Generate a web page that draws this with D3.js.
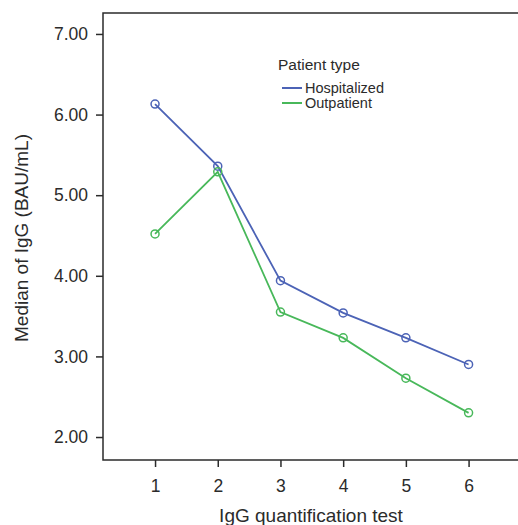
<!DOCTYPE html>
<html>
<head>
<meta charset="utf-8">
<script src="https://cdn.jsdelivr.net/npm/d3@7"></script>
<style>
  body { margin: 0; background: #fff; }
  text { font-family: "Liberation Sans", Arial, sans-serif; fill: #2b2b2b; }
</style>
</head>
<body>
<div id="chart"></div>
<script>
// data
var tests = [1, 2, 3, 4, 5, 6];
var hospitalized = [6.13, 5.36, 3.94, 3.54, 3.23, 2.90];
var outpatient = [4.52, 5.29, 3.55, 3.23, 2.73, 2.30];
var yTicks = [2, 3, 4, 5, 6, 7];
var seriesNames = ["Hospitalized", "Outpatient"];
var seriesColors = ["#4c63b6", "#48b85a"];

var width = 518;
var height = 525;
// plot box (top is a reserved window name, so use plotTop)
var plotLeft = 103, plotTop = 13, plotBottom = 460, plotRight = 520;

var svg = d3.select("#chart")
  .append("svg")
  .attr("width", width)
  .attr("height", height);

var x = d3.scaleLinear().domain([0.17, 6.82]).range([plotLeft, plotRight]);
var y = d3.scaleLinear().domain([1.715, 7.26]).range([plotBottom, plotTop]);

// frame: top, left, bottom
svg.append("path")
  .attr("d", "M" + (plotRight + 5) + "," + plotTop + "H" + plotLeft + "V" + plotBottom + "H" + (plotRight + 5))
  .attr("fill", "none")
  .attr("stroke", "#2b2b2b")
  .attr("stroke-width", 1.5);

// y axis
var yAxis = d3.axisLeft(y).tickValues(yTicks).tickFormat(d3.format(".2f")).tickSize(7).tickPadding(8);
var gy = svg.append("g").attr("transform", "translate(" + plotLeft + ",0)").call(yAxis);
gy.select(".domain").remove();
gy.selectAll("line").attr("stroke", "#2b2b2b").attr("stroke-width", 1.5);
gy.selectAll("text").style("font-size", "17.5px").attr("fill", "#2b2b2b");

// x axis
var xAxis = d3.axisBottom(x).tickValues(tests).tickFormat(d3.format("d")).tickSize(7).tickPadding(13);
var gx = svg.append("g").attr("transform", "translate(0," + plotBottom + ")").call(xAxis);
gx.select(".domain").remove();
gx.selectAll("line").attr("stroke", "#2b2b2b").attr("stroke-width", 1.5);
gx.selectAll("text").style("font-size", "17.5px").attr("fill", "#2b2b2b");

// axis titles
svg.append("text")
  .attr("x", 311).attr("y", 522)
  .attr("text-anchor", "middle")
  .style("font-size", "19px")
  .text("IgG quantification test");

svg.append("text")
  .attr("transform", "translate(28," + 238 + ")rotate(-90)")
  .attr("text-anchor", "middle")
  .style("font-size", "19px")
  .text("Median of IgG (BAU/mL)");

// lines + markers
var allSeries = [hospitalized, outpatient];
var line = d3.line()
  .x(function(d, i) { return x(tests[i]); })
  .y(function(d) { return y(d); });

allSeries.forEach(function(vals, s) {
  svg.append("path")
    .datum(vals)
    .attr("d", line)
    .attr("fill", "none")
    .attr("stroke", seriesColors[s])
    .attr("stroke-width", 1.8);
  svg.selectAll("circle.s" + s)
    .data(vals)
    .enter()
    .append("circle")
    .attr("class", "s" + s)
    .attr("cx", function(d, i) { return x(tests[i]); })
    .attr("cy", function(d) { return y(d); })
    .attr("r", 4)
    .attr("fill", "none")
    .attr("stroke", seriesColors[s])
    .attr("stroke-width", 1.5);
});

// legend
var legend = svg.append("g").attr("transform", "translate(278,0)");
legend.append("text")
  .attr("x", 0).attr("y", 70)
  .style("font-size", "15.5px")
  .text("Patient type");
seriesNames.forEach(function(name, i) {
  var ly = 88 + i * 15;
  legend.append("line")
    .attr("x1", 4).attr("x2", 24)
    .attr("y1", ly).attr("y2", ly)
    .attr("stroke", seriesColors[i])
    .attr("stroke-width", 2);
  legend.append("text")
    .attr("x", 27).attr("y", ly + 5)
    .style("font-size", "14.5px")
    .text(name);
});
</script>
</body>
</html>
